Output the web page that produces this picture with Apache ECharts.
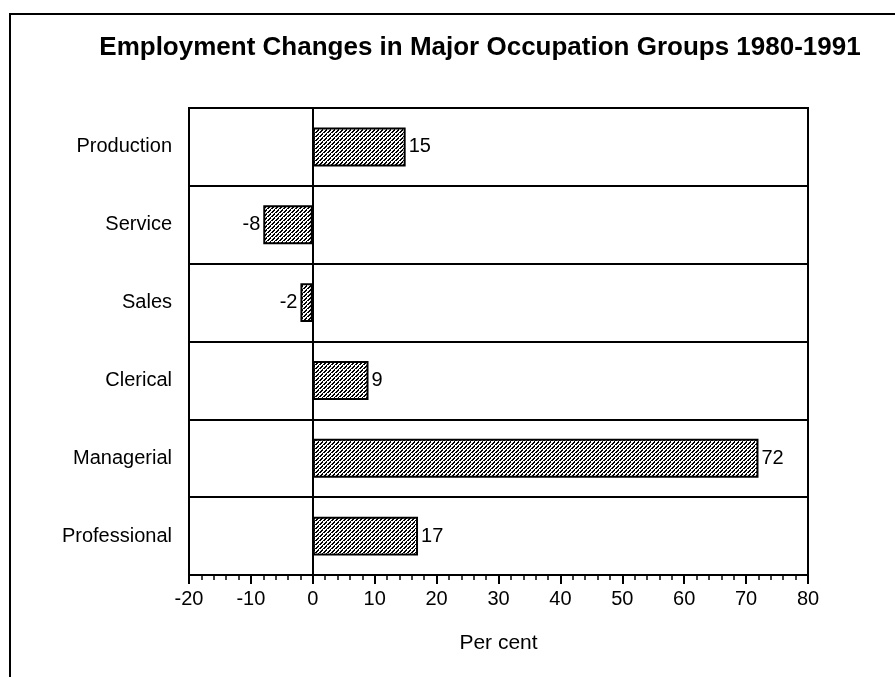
<!DOCTYPE html>
<html>
<head>
<meta charset="utf-8">
<script src="https://cdn.jsdelivr.net/npm/echarts@6/dist/echarts.min.js"></script>
<style>html,body{margin:0;padding:0;background:#fff}#c{width:895px;height:677px}</style>
</head>
<body>
<div id="c"></div>
<script>
const categories = ['Production', 'Service', 'Sales', 'Clerical', 'Managerial', 'Professional'];
const values = [15, -8, -2, 9, 72, 17];
const xTicks = [-20, -10, 0, 10, 20, 30, 40, 50, 60, 70, 80];

function makePattern() {
  const c = document.createElement('canvas');
  c.width = 4; c.height = 4;
  const g = c.getContext('2d');
  g.fillStyle = '#ffffff';
  g.fillRect(0, 0, 4, 4);
  g.fillStyle = '#000000';
  g.fillRect(0, 3, 1, 1); g.fillRect(1, 2, 1, 1); g.fillRect(2, 1, 1, 1); g.fillRect(3, 0, 1, 1);
  g.fillRect(0, 0, 1, 1); g.fillRect(2, 2, 1, 1); g.fillRect(1, 3, 1, 1);
  return c;
}

const chart = echarts.init(document.getElementById('c'), null, {renderer: 'canvas'});
const font = 'Liberation Sans, Arial, Helvetica, sans-serif';
chart.setOption({
  animation: false,
  backgroundColor: '#fff',
  title: {
    text: 'Employment Changes in Major Occupation Groups 1980-1991',
    left: 475, top: 30, textAlign: 'center',
    textStyle: {fontFamily: font, fontSize: 26, fontWeight: 'bold', color: '#000'}
  },
  graphic: [{
    type: 'polyline', silent: true,
    shape: {points: [[10, 677], [10, 14], [895, 14]]},
    style: {stroke: '#000', lineWidth: 2, fill: null}
  }],
  grid: {left: 189, right: 87, top: 108, bottom: 102, show: true, borderColor: '#000', borderWidth: 2, backgroundColor: 'transparent'},
  xAxis: {
    type: 'value', min: xTicks[0], max: xTicks[xTicks.length - 1], interval: 10,
    name: 'Per cent', nameLocation: 'middle', nameGap: 58,
    nameTextStyle: {fontFamily: font, fontSize: 21, color: '#000'},
    axisLine: {show: true, lineStyle: {color: '#000', width: 2}},
    axisTick: {show: true, length: 9, lineStyle: {color: '#000', width: 2}},
    minorTick: {show: true, splitNumber: 5, length: 5, lineStyle: {color: '#000', width: 1.5}},
    axisLabel: {fontFamily: font, fontSize: 20, color: '#000', margin: 14},
    splitLine: {show: false}
  },
  yAxis: {
    type: 'category', data: categories, inverse: true,
    axisLine: {show: true, lineStyle: {color: '#000', width: 2}},
    axisTick: {show: false},
    axisLabel: {fontFamily: font, fontSize: 20, color: '#000', margin: 17},
    splitLine: {show: true, lineStyle: {color: '#000', width: 2}}
  },
  series: [{
    type: 'bar',
    data: values.map(v => v < 0 ? {value: v, label: {position: 'left'}} : v),
    barWidth: '50%',
    itemStyle: {color: {image: makePattern(), repeat: 'repeat'}, borderColor: '#000', borderWidth: 2},
    label: {
      show: true, position: 'right', distance: 3,
      fontFamily: font, fontSize: 20, color: '#000'
    },
    markLine: {
      silent: true, symbol: 'none', label: {show: false},
      lineStyle: {color: '#000', width: 2, type: 'solid'},
      data: [{xAxis: 0}]
    }
  }]
});
</script>
</body>
</html>
